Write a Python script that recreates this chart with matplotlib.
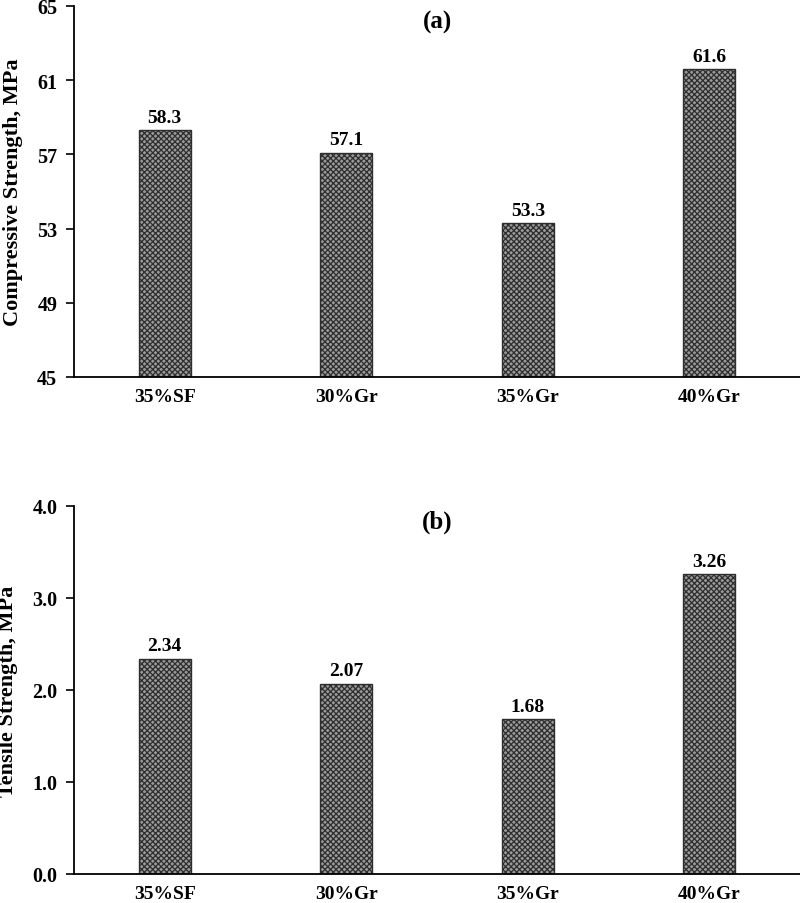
import matplotlib.pyplot as plt

mixes = ["35%SF", "30%Gr", "35%Gr", "40%Gr"]
compressive = [58.3, 57.1, 53.3, 61.6]
tensile = [2.34, 2.07, 1.68, 3.26]

comp_ticks = [45, 49, 53, 57, 61, 65]
tens_ticks = [0.0, 1.0, 2.0, 3.0, 4.0]

plt.rcParams["font.family"] = ["Liberation Serif", "DejaVu Serif"]
plt.rcParams["font.weight"] = "bold"
plt.rcParams["hatch.color"] = "#2e2e2e"
plt.rcParams["hatch.linewidth"] = 0.9


def draw_panel(ax, values, ticks, tick_fmt, val_fmt, ylabel, tag):
    x = list(range(len(mixes)))
    base = ticks[0]
    ax.bar(x, [v - base for v in values], bottom=base, width=0.285,
           color="#9a9a9a", edgecolor="#2e2e2e", linewidth=1.0, hatch="xxxxxx")
    ax.set_xlim(-0.5, len(mixes) - 0.5)
    ax.set_ylim(ticks[0], ticks[-1])
    ax.set_yticks(ticks)
    ax.set_yticklabels([tick_fmt.format(t) for t in ticks], fontsize=14.5, fontweight="bold")
    ax.set_xticks(x)
    ax.set_xticklabels(mixes, fontsize=14, fontweight="bold")
    ax.tick_params(axis="x", length=0, pad=8)
    ax.tick_params(axis="y", direction="out", length=6, width=1.2, pad=6)
    for s in ["top", "right"]:
        ax.spines[s].set_visible(False)
    for s in ["left", "bottom"]:
        ax.spines[s].set_linewidth(1.3)
    ax.set_ylabel(ylabel, fontsize=16, fontweight="bold", labelpad=10)
    ax.text(0.5, 0.99, tag, transform=ax.transAxes, ha="center", va="top",
            fontsize=18, fontweight="bold")
    span = ticks[-1] - ticks[0]
    for xi, v in zip(x, values):
        ax.text(xi, v + span * 0.012, val_fmt.format(v), ha="center", va="bottom",
                fontsize=14, fontweight="bold")


fig = plt.figure(figsize=(8, 9.04), dpi=100)
ax1 = fig.add_axes([0.0925, 0.5819, 0.9075, 0.4104])
ax2 = fig.add_axes([0.0925, 0.0321, 0.9075, 0.4071])

draw_panel(ax1, compressive, comp_ticks, "{:.0f}", "{:.1f}",
           "Compressive Strength, MPa", "(a)")
draw_panel(ax2, tensile, tens_ticks, "{:.1f}", "{:.2f}",
           "Tensile Strength, MPa", "(b)")

fig.savefig("out.png", dpi=100)
